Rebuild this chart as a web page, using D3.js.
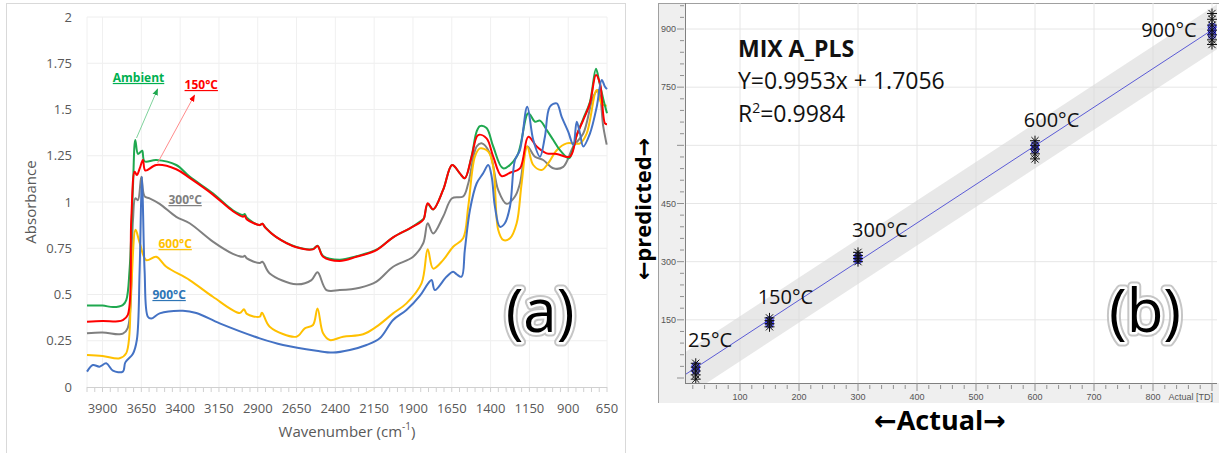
<!DOCTYPE html>
<html>
<head>
<meta charset="utf-8">
<script src="https://cdn.jsdelivr.net/npm/d3@7"></script>
<style>
  body { margin: 0; background: #fff; }
  svg { display: block; font-family: "Open Sans", "DejaVu Sans", sans-serif; }
</style>
</head>
<body>
<svg width="1219" height="453"></svg>
<script>
// ---------- (a) FTIR spectra, [wavenumber, absorbance] ----------
let ambient = [[4000,0.44],[3900,0.44],[3830,0.432],[3770,0.443],[3747,0.47],[3726,0.63],[3704,1.08],[3689,1.335],[3672,1.26],[3655,1.27],[3644,1.277],[3629,1.22],[3554,1.227],[3425,1.2],[3339,1.137],[3189,1.047],[3060,0.955],[2995,0.93],[2984,0.935],[2970,0.915],[2890,0.875],[2870,0.882],[2850,0.862],[2780,0.81],[2651,0.757],[2544,0.746],[2515,0.764],[2479,0.708],[2372,0.688],[2264,0.707],[2135,0.742],[2028,0.809],[1920,0.858],[1845,0.9],[1830,0.91],[1805,0.99],[1770,0.96],[1706,1.065],[1648,1.2],[1598,1.155],[1566,1.128],[1522,1.25],[1490,1.38],[1469,1.41],[1426,1.4],[1383,1.3],[1319,1.182],[1232,1.245],[1157,1.48],[1114,1.434],[1082,1.44],[1039,1.39],[996,1.335],[953,1.28],[900,1.236],[889,1.24],[845,1.36],[803,1.45],[760,1.54],[721,1.72],[700,1.65],[675,1.56],[650,1.48]];
let c150 = [[4000,0.353],[3900,0.357],[3800,0.355],[3769,0.362],[3737,0.39],[3715,0.9],[3693,1.164],[3679,1.146],[3661,1.18],[3640,1.227],[3624,1.17],[3554,1.2],[3425,1.177],[3339,1.13],[3189,1.04],[3060,0.95],[2995,0.92],[2984,0.925],[2970,0.905],[2887,0.876],[2870,0.882],[2850,0.86],[2780,0.81],[2651,0.755],[2544,0.744],[2515,0.762],[2479,0.704],[2372,0.681],[2264,0.704],[2135,0.74],[2028,0.809],[1920,0.858],[1845,0.894],[1830,0.91],[1805,0.993],[1770,0.96],[1706,1.065],[1648,1.2],[1598,1.155],[1566,1.128],[1522,1.245],[1480,1.362],[1426,1.344],[1383,1.245],[1329,1.14],[1275,1.158],[1211,1.182],[1157,1.353],[1103,1.3],[1039,1.263],[974,1.26],[889,1.245],[845,1.362],[803,1.443],[760,1.533],[721,1.686],[695,1.64],[663,1.425],[650,1.42]];
let c300 = [[4000,0.29],[3900,0.295],[3800,0.285],[3769,0.288],[3737,0.32],[3704,0.9],[3689,1.02],[3672,1.01],[3650,1.137],[3629,1.03],[3597,1.02],[3532,0.99],[3425,0.92],[3339,0.885],[3189,0.786],[3060,0.72],[2995,0.704],[2984,0.71],[2970,0.695],[2887,0.67],[2870,0.677],[2823,0.614],[2651,0.555],[2554,0.578],[2515,0.62],[2457,0.524],[2372,0.524],[2243,0.537],[2135,0.57],[2028,0.65],[1899,0.704],[1834,0.777],[1805,0.885],[1770,0.83],[1706,0.92],[1648,1.02],[1577,1.03],[1544,1.1],[1490,1.3],[1458,1.317],[1404,1.263],[1351,1.065],[1297,0.99],[1243,1.03],[1211,1.1],[1164,1.3],[1114,1.245],[1061,1.227],[996,1.182],[932,1.19],[867,1.3],[803,1.37],[738,1.57],[706,1.605],[674,1.407],[652,1.31]];
let c600 = [[4000,0.173],[3900,0.168],[3790,0.155],[3747,0.183],[3715,0.54],[3687,0.85],[3661,0.78],[3618,0.686],[3554,0.704],[3489,0.65],[3339,0.578],[3189,0.488],[3016,0.4],[2989,0.42],[2970,0.395],[2887,0.38],[2873,0.402],[2823,0.326],[2651,0.272],[2597,0.317],[2544,0.335],[2515,0.425],[2479,0.29],[2436,0.254],[2350,0.272],[2221,0.285],[2135,0.326],[2028,0.398],[1942,0.452],[1845,0.56],[1805,0.745],[1770,0.64],[1706,0.686],[1641,0.758],[1577,0.804],[1544,0.975],[1501,1.245],[1469,1.29],[1415,1.272],[1383,1.19],[1351,0.85],[1319,0.795],[1275,0.804],[1232,0.885],[1200,1.1],[1164,1.3],[1125,1.2],[1071,1.173],[1028,1.21],[974,1.28],[910,1.317],[867,1.317],[824,1.317],[781,1.37],[716,1.605],[684,1.53],[652,1.52]];
let c900 = [[4000,0.083],[3962,0.119],[3920,0.11],[3876,0.128],[3833,0.088],[3769,0.083],[3753,0.133],[3704,0.18],[3679,0.254],[3661,0.63],[3646,1.137],[3629,0.63],[3608,0.38],[3586,0.37],[3532,0.398],[3382,0.412],[3296,0.4],[3145,0.344],[2887,0.263],[2737,0.227],[2522,0.196],[2415,0.186],[2307,0.2],[2199,0.227],[2114,0.263],[2028,0.362],[1942,0.416],[1856,0.492],[1802,0.56],[1780,0.578],[1759,0.524],[1684,0.596],[1641,0.623],[1620,0.61],[1587,0.596],[1566,0.74],[1533,0.957],[1490,1.1],[1448,1.155],[1415,1.2],[1393,1.137],[1372,0.975],[1340,0.866],[1308,0.885],[1275,0.975],[1243,1.227],[1211,1.28],[1164,1.515],[1125,1.335],[1082,1.245],[1050,1.353],[1018,1.515],[974,1.533],[942,1.46],[900,1.38],[867,1.308],[845,1.434],[824,1.37],[803,1.3],[760,1.37],[716,1.515],[684,1.66],[663,1.623],[650,1.61]];

let wnTicks = [3900,3650,3400,3150,2900,2650,2400,2150,1900,1650,1400,1150,900,650];
let absTicks = [0,0.25,0.5,0.75,1,1.25,1.5,1.75,2];

// label name, colour, label anchor [wn, abs], arrow from/to (null = none)
let spectra = [
  {name:"Ambient", color:"#1fa84f", lab:"#00b050", data:ambient, at:[3668,1.649], arrow:[[3681,1.346],[3545,1.611]], arrowColor:"#7fd39c"},
  {name:"150°C",  color:"#ff0000", lab:"#ff0000", data:c150, at:[3264,1.611], arrow:[[3545,1.211],[3307,1.578]], arrowColor:"#ff8c8c"},
  {name:"300°C",  color:"#808080", lab:"#7f7f7f", data:c300, at:[3368,0.989], arrow:null},
  {name:"600°C",  color:"#ffc000", lab:"#ffc000", data:c600, at:[3432,0.751], arrow:null},
  {name:"900°C",  color:"#4472c4", lab:"#2e75b6", data:c900, at:[3471,0.476], arrow:null}
];

// ---------- (b) PLS predicted vs actual ----------
let actualTemps = [25, 150, 300, 600, 900];
let predStars = [[-3,8,18,28,38],[132,140,148,155],[300,308,316,324],[565,578,590,600,612],[860,872,885,897,910,925,940]];
let predCircles = [[20,30],[140,148],[305,312],[590,600],[885,897,905]];
let tempLabels = ["25°C","150°C","300°C","600°C","900°C"];
let tempLabelAt = [[12,80],[130,191],[290,364],[581,647],[780,879]];
let fitSlope = 0.9953, fitIntercept = 1.7056, bandHalf = 58;
let xTicksB = [100,200,300,400,500,600,700,800];
let yLabelsB = [150,300,450,750,900];
let yGridB = [150,300,450,600,750,900];

let svg = d3.select('svg');

// ================= panel (a) =================
let gA = svg.append("g");
gA.append("rect").attr("x",6.5).attr("y",3.5).attr("width",619).attr("height",460)
  .attr("fill","none").attr("stroke","#d9d9d9");

let x = d3.scaleLinear().domain([4000,650]).range([87,607]);
let y = d3.scaleLinear().domain([0,2]).range([387,17]);

// grid
gA.selectAll(".hg").data(absTicks.slice(1)).enter().append("line")
  .attr("x1",x(4000)).attr("x2",x(650)).attr("y1",d=>y(d)).attr("y2",d=>y(d))
  .attr("stroke","#eeeeee");
gA.selectAll(".vg").data([4000].concat(wnTicks)).enter().append("line")
  .attr("x1",d=>x(d)).attr("x2",d=>x(d)).attr("y1",y(0)).attr("y2",y(2))
  .attr("stroke","#f0f0f0");

// x axis line + minor ticks every 50
gA.append("line").attr("x1",x(4000)).attr("x2",x(650)).attr("y1",y(0)+0.5).attr("y2",y(0)+0.5)
  .attr("stroke","#d0d0d0");
gA.selectAll(".mt").data(d3.range(4000,649,-50)).enter().append("line")
  .attr("x1",d=>x(d)).attr("x2",d=>x(d)).attr("y1",y(0)).attr("y2",y(0)+5)
  .attr("stroke","#d0d0d0");

gA.selectAll(".xl").data(wnTicks).enter().append("text")
  .attr("x",d=>x(d)).attr("y",413).attr("text-anchor","middle")
  .attr("font-size",13).attr("fill","#595959").text(d=>d);
gA.selectAll(".yl").data(absTicks).enter().append("text")
  .attr("x",72).attr("y",d=>y(d)+4.5).attr("text-anchor","end")
  .attr("font-size",13).attr("fill","#595959").text(d=>d);

gA.append("text").attr("transform","translate(36,"+y(1)+") rotate(-90)")
  .attr("text-anchor","middle").attr("font-size",15).attr("fill","#595959").text("Absorbance");
let xt = gA.append("text").attr("x",(x(4000)+x(650))/2).attr("y",437).attr("text-anchor","middle")
  .attr("font-size",15).attr("fill","#595959");
xt.append("tspan").text("Wavenumber (cm");
xt.append("tspan").attr("baseline-shift","super").attr("font-size",10).text("-1");
xt.append("tspan").text(")");

let line = d3.line().x(d=>x(d[0])).y(d=>y(d[1])).curve(d3.curveCatmullRom.alpha(0.5));
// draw 900 last-ish like the reference: blue sits on top at the 3620 peak
let drawOrder = [2,3,0,1,4];
drawOrder.forEach(i => {
  gA.append("path").datum(spectra[i].data)
    .attr("fill","none").attr("stroke",spectra[i].color).attr("stroke-width",2)
    .attr("stroke-linejoin","round").attr("d",line);
});

// annotation arrows + labels
let defs = svg.append("defs");
spectra.forEach((s,i) => {
  if (s.arrow) {
    defs.append("marker").attr("id","ah"+i).attr("viewBox","0 0 10 10").attr("refX",9).attr("refY",5)
      .attr("markerWidth",7).attr("markerHeight",7).attr("orient","auto")
      .append("path").attr("d","M0,1 L10,5 L0,9 z").attr("fill",s.color);
    gA.append("line")
      .attr("x1",x(s.arrow[0][0])).attr("y1",y(s.arrow[0][1]))
      .attr("x2",x(s.arrow[1][0])).attr("y2",y(s.arrow[1][1]))
      .attr("stroke",s.arrowColor).attr("stroke-width",1)
      .attr("marker-end","url(#ah"+i+")");
  }
  gA.append("text").attr("x",x(s.at[0])).attr("y",y(s.at[1])).attr("text-anchor","middle")
    .attr("font-size",12).attr("font-weight","bold").attr("fill",s.lab)
    .attr("text-decoration","underline").text(s.name);
});

function bigLetter(g, cx, base, txt) {
  g.append("text").attr("x",cx).attr("y",base).attr("text-anchor","middle").attr("font-size",60)
    .attr("fill","none").attr("stroke","#b8b8b8").attr("stroke-width",9).attr("stroke-linejoin","round")
    .attr("opacity",0.8).text(txt);
  g.append("text").attr("x",cx).attr("y",base).attr("text-anchor","middle").attr("font-size",60)
    .attr("fill","none").attr("stroke","#ffffff").attr("stroke-width",5).attr("stroke-linejoin","round").text(txt);
  g.append("text").attr("x",cx).attr("y",base).attr("text-anchor","middle").attr("font-size",60)
    .attr("fill","#000").text(txt);
}
bigLetter(gA, 540, 332, "(a)");

// ================= panel (b) =================
let gB = svg.append("g");
let L = 685, R = 1217, T = 3, B = 383;
let xb = d3.scaleLinear().domain([0,900]).range([681,1212]);
let yb = d3.scaleLinear().domain([0,900]).range([378,29]);

gB.append("rect").attr("x",658).attr("y",T).attr("width",L-658).attr("height",403-T).attr("fill","#efefef");
gB.append("rect").attr("x",658).attr("y",B).attr("width",1219-658).attr("height",403-B).attr("fill","#efefef");
gB.append("line").attr("x1",658.5).attr("x2",658.5).attr("y1",T).attr("y2",403).attr("stroke","#a0a0a0");
gB.append("line").attr("x1",658).attr("x2",1219).attr("y1",T+0.5).attr("y2",T+0.5).attr("stroke","#a0a0a0");

defs.append("clipPath").attr("id","plotB").append("rect")
  .attr("x",L).attr("y",T).attr("width",R-L).attr("height",B-T);
let plot = gB.append("g").attr("clip-path","url(#plotB)");

plot.selectAll(".gx").data(xTicksB.concat([900])).enter().append("line")
  .attr("x1",d=>xb(d)).attr("x2",d=>xb(d)).attr("y1",T).attr("y2",B).attr("stroke","#e6e6e6");
plot.selectAll(".gy").data(yGridB).enter().append("line")
  .attr("x1",L).attr("x2",R).attr("y1",d=>yb(d)).attr("y2",d=>yb(d)).attr("stroke","#e6e6e6");

// confidence band and fit line
let xs = [xb.invert(L), xb.invert(R)];
let fit = v => fitSlope*v + fitIntercept;
let band = d3.area().x(d=>xb(d)).y0(d=>yb(fit(d)-bandHalf)).y1(d=>yb(fit(d)+bandHalf));
plot.append("path").datum(xs).attr("d",band).attr("fill","#d9d9d9").attr("opacity",0.6);
plot.append("line").attr("x1",xb(xs[0])).attr("y1",yb(fit(xs[0])))
  .attr("x2",xb(xs[1])).attr("y2",yb(fit(xs[1])))
  .attr("stroke","#5b5bd6").attr("stroke-width",1);

// points
let starPath = "M-5,0L5,0M0,-5L0,5M-3.6,-3.6L3.6,3.6M-3.6,3.6L3.6,-3.6";
actualTemps.forEach((a,i) => {
  plot.selectAll(".c"+i).data(predCircles[i]).enter().append("circle")
    .attr("cx",xb(a)).attr("cy",d=>yb(d)).attr("r",4)
    .attr("fill","rgba(70,70,255,0.55)").attr("stroke","#3a3aff").attr("stroke-width",1);
  plot.selectAll(".s"+i).data(predStars[i]).enter().append("path")
    .attr("transform",d=>"translate("+xb(a)+","+yb(d)+")").attr("d",starPath)
    .attr("stroke","#111").attr("stroke-width",1).attr("fill","none");
});

// axes lines
gB.append("line").attr("x1",L+0.5).attr("x2",L+0.5).attr("y1",T).attr("y2",B).attr("stroke","#808080");
gB.append("line").attr("x1",L).attr("x2",R).attr("y1",B+0.5).attr("y2",B+0.5).attr("stroke","#808080");

// ticks
gB.selectAll(".xm").data(d3.range(20,901,20)).enter().append("line")
  .attr("x1",d=>xb(d)).attr("x2",d=>xb(d))
  .attr("y1",d=>d%100===0?B:B+2).attr("y2",d=>d%100===0?B+8:B+6)
  .attr("stroke","#909090");
gB.selectAll(".ym").data(d3.range(0,961,30)).enter().append("line")
  .attr("y1",d=>yb(d)).attr("y2",d=>yb(d))
  .attr("x1",d=>d%150===0?L-8:L-5).attr("x2",L-1)
  .attr("stroke","#909090");
gB.selectAll(".xbl").data(xTicksB).enter().append("text")
  .attr("x",d=>xb(d)).attr("y",400).attr("text-anchor","middle")
  .attr("font-family","Liberation Sans, Arial, sans-serif").attr("font-size",9).attr("fill","#555").text(d=>d);
gB.append("text").attr("x",1213).attr("y",400).attr("text-anchor","end")
  .attr("font-family","Liberation Sans, Arial, sans-serif").attr("font-size",9).attr("fill","#555").text("Actual [TD]");
gB.selectAll(".ybl").data(yLabelsB).enter().append("text")
  .attr("x",676).attr("y",d=>yb(d)+3).attr("text-anchor","end")
  .attr("font-family","Liberation Sans, Arial, sans-serif").attr("font-size",9).attr("fill","#555").text(d=>d);

// temperature labels
tempLabels.forEach((t,i) => {
  gB.append("text").attr("x",xb(tempLabelAt[i][0])).attr("y",yb(tempLabelAt[i][1]))
    .attr("font-size",20).attr("fill","#111").text(t);
});

// model text
gB.append("text").attr("x",738).attr("y",57).attr("font-size",23).attr("font-weight","bold").attr("fill","#111").text("MIX A_PLS");
gB.append("text").attr("x",738).attr("y",89).attr("font-size",23).attr("fill","#111").text("Y=0.9953x + 1.7056");
let r2 = gB.append("text").attr("x",738).attr("y",122).attr("font-size",23).attr("fill","#111");
r2.append("tspan").text("R");
r2.append("tspan").attr("baseline-shift","super").attr("font-size",14).text("2");
r2.append("tspan").text("=0.9984");

// axis titles
gB.append("text").attr("transform","translate(651,209) rotate(-90)").attr("text-anchor","middle")
  .attr("font-size",22).attr("font-weight","bold").attr("fill","#000").text("←predicted→");
gB.append("text").attr("x",940).attr("y",430).attr("text-anchor","middle")
  .attr("font-size",27).attr("font-weight","bold").attr("fill","#000").text("←Actual→");

bigLetter(gB, 1145, 332, "(b)");
</script>
</body>
</html>
